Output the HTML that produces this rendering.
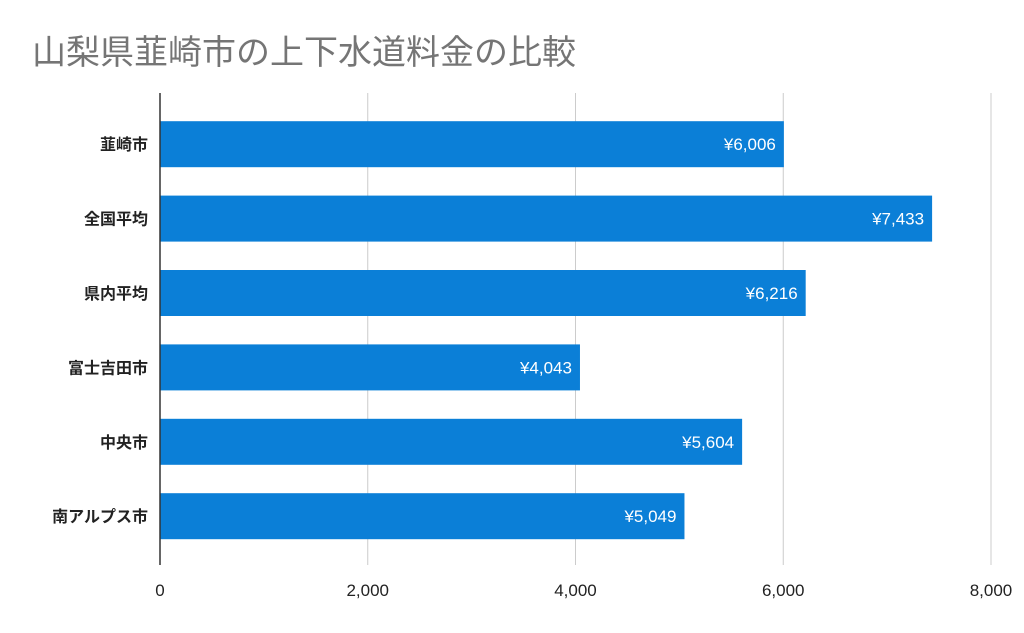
<!DOCTYPE html>
<html><head><meta charset="utf-8">
<style>
body{margin:0;background:#fff;}
svg{display:block;font-family:"Liberation Sans","Noto Sans CJK JP",sans-serif;}
</style></head>
<body>
<svg id="chart" width="1024" height="633" viewBox="0 0 1024 633">
<rect width="1024" height="633" fill="#fff"/>
<text x="32" y="64" font-size="34" fill="#757575">山梨県韮崎市の上下水道料金の比較</text>
<g id="grid"></g><g id="bars"></g><g id="labels"></g>
</svg>
<script>
const categories=["韮崎市","全国平均","県内平均","富士吉田市","中央市","南アルプス市"];
const values=[6006,7433,6216,4043,5604,5049];
const valueLabels=["¥6,006","¥7,433","¥6,216","¥4,043","¥5,604","¥5,049"];
const ticks=[0,2000,4000,6000,8000];
const tickLabels=["0","2,000","4,000","6,000","8,000"];
const NS="http://www.w3.org/2000/svg";
const x0=160,x1=991,xmax=8000,pTop=93,pBottom=565;
const xs=v=>x0+(v/xmax)*(x1-x0);
const bandStart=107,band=74.4;
function mk(t,a,p){const e=document.createElementNS(NS,t);for(const k in a)e.setAttribute(k,a[k]);p.appendChild(e);return e;}
const g=document.getElementById('grid'),b=document.getElementById('bars'),l=document.getElementById('labels');
ticks.forEach((t,i)=>{
 if(i>0){const ln=mk('line',{x1:xs(t),x2:xs(t),y1:pTop,y2:pBottom,stroke:'#cccccc','stroke-width':1},g);
 
 }
 const tx=mk('text',{x:xs(t),y:596,'font-size':17,fill:'#222','text-anchor':'middle'},l);
 tx.textContent=tickLabels[i];
 
 
});
categories.forEach((c,i)=>{
 const cy=bandStart+band*(i+0.5),h=46;
 const r=mk('rect',{x:x0,y:cy-h/2,width:xs(values[i])-x0,height:h,fill:'#0b7fd7'},b);
 
 
 const v=mk('text',{x:xs(values[i])-8,y:cy+6,'font-size':17,fill:'#fff','text-anchor':'end'},l);
 v.textContent=valueLabels[i];
 
 
 const cl=mk('text',{x:148,y:cy+6,'font-size':16,'font-weight':'600',fill:'#222','text-anchor':'end'},l);
 cl.textContent=c;
 
 
});
const ax=mk('line',{x1:x0,x2:x0,y1:pTop,y2:pBottom,stroke:'#333','stroke-width':1.5},l);


</script>
</body></html>
